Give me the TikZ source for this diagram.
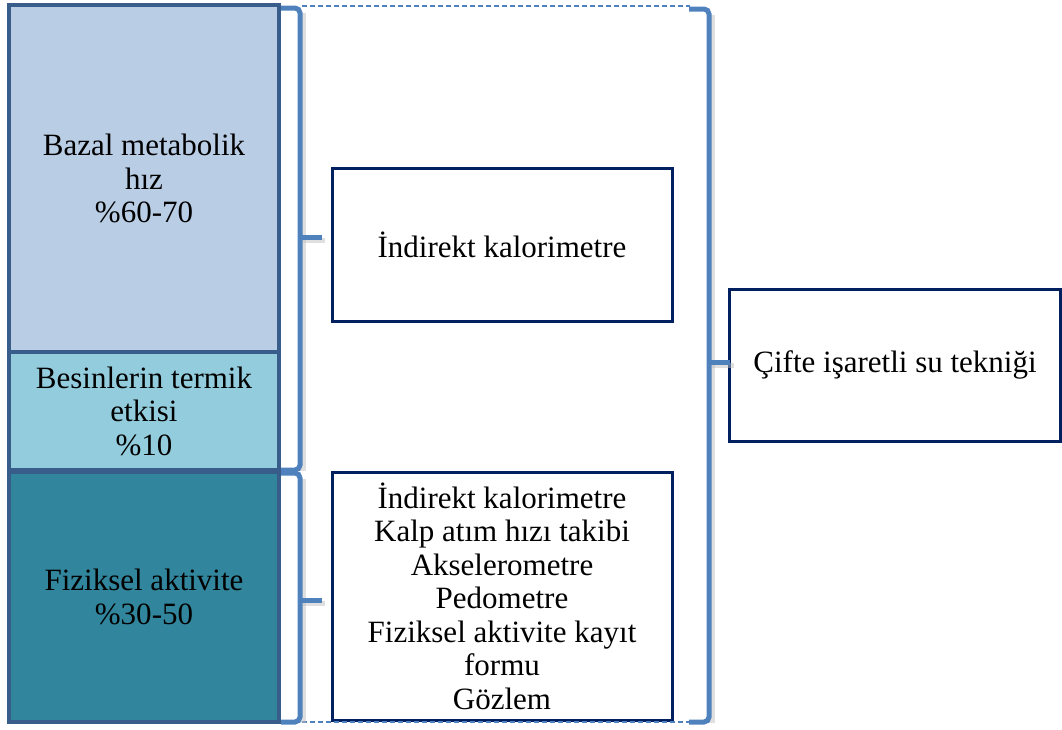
\documentclass[tikz,border=0pt]{standalone}
\usepackage{fontspec}
\setmainfont{Liberation Serif}
\usetikzlibrary{calc}
\definecolor{stackline}{HTML}{385D8A}
\definecolor{bmhfill}{HTML}{B9CDE5}
\definecolor{btefill}{HTML}{93CDDD}
\definecolor{fafill}{HTML}{31859C}
\definecolor{navyline}{HTML}{002060}
\definecolor{bracketblue}{HTML}{4F81BD}
\tikzset{
  stackbox/.style={draw=stackline, line width=4pt, minimum width=270pt, inner sep=0pt, align=center,
    font=\fontsize{31}{33.5}\selectfont},
  methodbox/.style={draw=navyline, line width=3pt, fill=white, inner sep=0pt, align=center,
    font=\fontsize{31}{33.5}\selectfont},
  bracket/.style={draw=bracketblue, line width=5pt, rounded corners=5pt},
  bracketshade/.style={draw=black!25, line width=5pt, rounded corners=5pt, opacity=0.5},
  guide/.style={draw=bracketblue, line width=1.2pt, dash pattern=on 5pt off 3pt}
}
\begin{document}
\begin{tikzpicture}[x=1pt,y=-1pt]
    \useasboundingbox (0,0) rectangle (1062,729);

    % energy components
    \node[stackbox, fill=bmhfill, minimum height=347pt] (bmh) at (144,178.5) {Bazal metabolik\\hız\\\%60-70};
    \node[stackbox, fill=btefill, minimum height=118pt] (bte) at (144,411) {Besinlerin termik\\etkisi\\\%10};
    \node[stackbox, fill=fafill, minimum height=250pt] (fa) at (144,597) {Fiziksel aktivite\\\%30-50};

    % methods
    \node[methodbox, minimum width=340pt, minimum height=153pt] (ik) at (502,244.5) {İndirekt kalorimetre};
    \node[methodbox, minimum width=340pt, minimum height=248pt] (fam) at (502,596) {İndirekt kalorimetre\\Kalp atım hızı takibi\\Akselerometre\\Pedometre\\Fiziksel aktivite kayıt\\formu\\Gözlem};
    \node[methodbox, minimum width=331pt, minimum height=152pt] (cis) at (895,365) {Çifte işaretli su tekniği};

    % dashed guides
    \coordinate (gtl) at (302,6);
    \coordinate (gtr) at (690,6);
    \coordinate (gbl) at (302,722);
    \coordinate (gbr) at (690,722);
    \draw[guide] (gtl) -- (gtr);
    \draw[guide] (gbl) -- (gbr);

    % shadows of the brackets
    \begin{scope}[shift={(3,3)}]
        \draw[bracketshade] (300,10) -- (300,468);
        \draw[bracketshade] (300,237) -- (322,237);
        \draw[bracketshade] (300,476) -- (300,720);
        \draw[bracketshade] (300,600) -- (322,600);
        \draw[bracketshade] (709,12) -- (709,720);
        \draw[bracketshade] (709,362) -- (731,362);
    \end{scope}

    % brackets
    \draw[bracket] (281,8) -- (300,8) -- (300,470) -- (281,470);
    \draw[bracket] (300,237) -- ($(ik.west)+(-9,-7.5)$);
    \draw[bracket] (281,473) -- (300,473) -- (300,722) -- (281,722);
    \draw[bracket] (300,600) -- ($(fam.west)+(-9,4)$);
    \draw[bracket] (689,9) -- (709,9) -- (709,722) -- (689,722);
    \draw[bracket] (709,362) -- ($(cis.west)+(2,-3)$);
\end{tikzpicture}
\end{document}
